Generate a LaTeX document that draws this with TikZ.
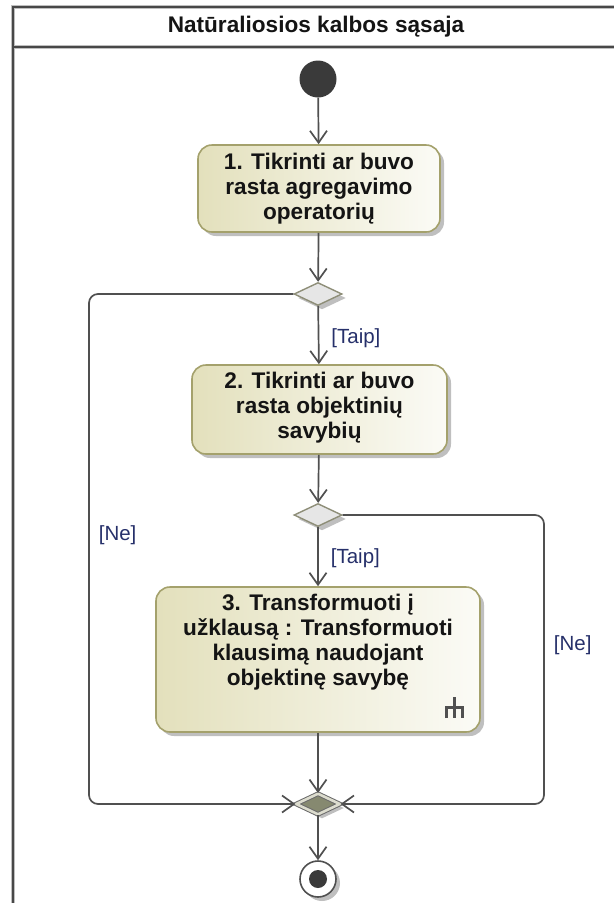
\documentclass[tikz,border=0pt]{standalone}
\usepackage{fontspec}
\setmainfont{Liberation Sans}
\usetikzlibrary{arrows.meta,shapes.geometric,shadows}

\definecolor{linegray}{HTML}{505050}
\definecolor{boxborder}{HTML}{A4A16C}
\definecolor{boxleft}{HTML}{E3E0BC}
\definecolor{boxright}{HTML}{FBFBF6}
\definecolor{decfill}{HTML}{E6E6E6}
\definecolor{decborder}{HTML}{8E8E78}
\definecolor{mergefill}{HTML}{868970}
\definecolor{mergeband}{HTML}{DCDCCE}
\definecolor{guardcol}{HTML}{26306A}
\definecolor{framecol}{HTML}{484848}
\definecolor{dotcol}{HTML}{3A3A3A}

\begin{document}
\begin{tikzpicture}[x=1pt,y=-1pt,
  flow/.style={draw=linegray, line width=1.7pt,
    -{Straight Barb[length=12pt,width=17pt,line width=1.7pt]}},
  softshadow/.style={drop shadow={shadow xshift=4pt,shadow yshift=-4pt,
    fill=black!50,opacity=0.5}},
  action/.style={draw=boxborder, line width=1.6pt, rounded corners=14pt,
    left color=boxleft, right color=boxright, softshadow,
    inner sep=0pt},
  actiontext/.style={font=\bfseries\fontsize{22.6}{25}\selectfont,
    align=center, text=black!92, inner sep=0pt},
  decision/.style={diamond, draw=decborder, line width=1.4pt, fill=decfill,
    minimum width=48pt, minimum height=23pt, inner sep=0pt, softshadow},
  mergenode/.style={diamond, draw=linegray!85, line width=1pt,
    double=mergeband, double distance=2.6pt, fill=mergefill,
    minimum width=44pt, minimum height=21pt, inner sep=0pt, softshadow},
  initial/.style={circle, fill=dotcol, minimum size=37pt, inner sep=0pt},
  final/.style={circle, draw=linegray, line width=1.6pt, fill=white,
    minimum size=36pt, inner sep=0pt, softshadow,
    path picture={\fill[dotcol] (path picture bounding box.center) circle (9pt);}},
  guard/.style={font=\fontsize{20.5}{23}\selectfont, text=guardcol,
    inner sep=0pt, anchor=west},
  titletext/.style={font=\bfseries\fontsize{22.6}{25}\selectfont, text=black!92}
]
\useasboundingbox (0,0) rectangle (614,903);

% swimlane frame with its title bar
\draw[framecol!35, line width=4.5pt] (13,903) -- (13,7) -- (614,7);
\draw[framecol!35, line width=4.5pt] (13,47) -- (614,47);
\draw[framecol, line width=1.9pt] (13,903) -- (13,7) -- (614,7);
\draw[framecol, line width=1.9pt] (13,47) -- (614,47);
\node[titletext] (title) at (316,27) {Natūraliosios kalbos sąsaja};

% activity nodes
\node[initial] (start) at (318,79) {};

\node[action, minimum width=242pt, minimum height=87pt] (act1) at (319,188.5) {};
\node[actiontext] (act1text) at (319,189) {1. Tikrinti ar buvo\\rasta agregavimo\\operatorių};

\node[decision] (dec1) at (318,294) {};

\node[action, minimum width=255pt, minimum height=89pt] (act2) at (319.5,409.5) {};
\node[actiontext] (act2text) at (319.5,408) {2. Tikrinti ar buvo\\rasta objektinių\\savybių};

\node[decision] (dec2) at (318,515) {};

\node[action, minimum width=324pt, minimum height=145pt] (act3) at (318,659.5) {};
\node[actiontext] (act3text) at (318,642) {3. Transformuoti į\\užklausą : Transformuoti\\klausimą naudojant\\objektinę savybę};

% call-behavior rake symbol
\begin{scope}[line width=3.2pt, linegray]
  \draw (446.5,718) -- (446.5,707.5) -- (462.5,707.5) -- (462.5,718);
  \draw (454.5,697) -- (454.5,718);
\end{scope}

\node[mergenode] (merge) at (318,804) {};
\node[final] (final) at (318,879) {};

% bend points of the two [Ne] loops
\coordinate (loopL) at (89,535);
\coordinate (loopR) at (544,645);

% control flows
\draw[flow] (start) -- (act1);
\draw[flow] (act1) -- (dec1);
\draw[flow] (dec1) -- node[guard, xshift=12pt, pos=0.55] {[Taip]} (act2);
\draw[flow] (act2) -- (dec2);
\draw[flow] (dec2) -- node[guard, xshift=12pt, pos=0.52] {[Taip]} (act3);
\draw[flow] (act3) -- (merge);
\draw[flow, rounded corners=9pt] (dec1.west) -| (loopL)
  node[guard, xshift=9pt] {[Ne]} |- (merge.west);
\draw[flow, rounded corners=9pt] (dec2.east) -| (loopR)
  node[guard, xshift=9pt] {[Ne]} |- (merge.east);
\draw[flow] (merge) -- (final);
\end{tikzpicture}
\end{document}
